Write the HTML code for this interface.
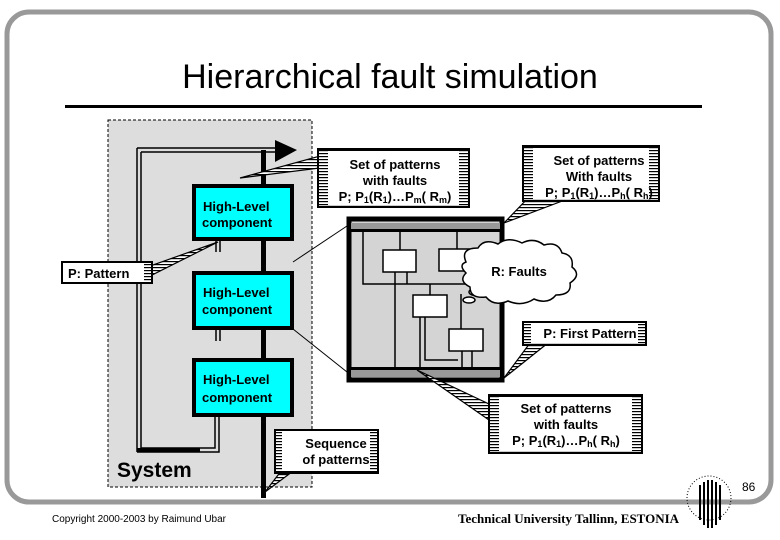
<!DOCTYPE html>
<html><head><meta charset="utf-8"><style>
html,body{margin:0;padding:0;background:#fff;}
svg{display:block;font-family:"Liberation Sans",sans-serif;}
.b{font-weight:bold;font-size:13px;}
</style></head><body>
<svg width="780" height="540" viewBox="0 0 780 540" xmlns="http://www.w3.org/2000/svg">
<defs>
<pattern id="st" width="4" height="3" patternUnits="userSpaceOnUse">
<rect width="4" height="3" fill="#fff"/><rect width="4" height="1.2" fill="#000"/>
</pattern>
</defs>
<rect x="7" y="12" width="764" height="490" rx="22" fill="none" stroke="#999" stroke-width="5"/>
<text x="390" y="88" text-anchor="middle" font-size="34">Hierarchical fault simulation</text>
<rect x="65" y="105" width="637" height="3" fill="#000"/>

<rect x="108" y="120" width="204" height="367" fill="#ddd" stroke="#000" stroke-width="1" stroke-dasharray="3,2"/>

<g fill="none" stroke="#000">
<path d="M137 148 H278 M141 152 H278" stroke-width="1.5"/>
<path d="M137 148 V452 M141 152 V448" stroke-width="1.5"/>
<path d="M137 452 H219 V416 M141 448 H215 V416" stroke-width="1.5"/>
<path d="M137 450 H200" stroke-width="4"/>
<path d="M216 240 V252 M220 240 V252 M216 329 V341 M220 329 V341" stroke-width="1.5"/>
</g>
<polygon points="275,140 297,150 275,162" fill="#000"/>
<rect x="261" y="150" width="5" height="348" fill="#000"/>

<g fill="#00ffff" stroke="#000" stroke-width="4">
<rect x="194" y="186" width="98" height="53"/>
<rect x="194" y="273" width="98" height="55"/>
<rect x="194" y="360" width="98" height="55"/>
</g>
<g class="b" font-size="13">
<text x="203" y="211">High-Level</text><text x="202" y="227">component</text>
<text x="203" y="297">High-Level</text><text x="202" y="314">component</text>
<text x="203" y="384">High-Level</text><text x="202" y="402">component</text>
</g>
<text x="117" y="477" font-size="21" font-weight="bold">System</text>

<line x1="293" y1="262" x2="347" y2="226" stroke="#000"/>
<line x1="293" y1="329" x2="347" y2="372" stroke="#000"/>

<rect x="349" y="219" width="153" height="161" fill="#d4d4d4" stroke="#000" stroke-width="5"/>
<rect x="351" y="223" width="149" height="6" fill="#999"/>
<rect x="351" y="370" width="149" height="7" fill="#999"/>
<rect x="351" y="229" width="149" height="3" fill="#000"/>
<rect x="351" y="367" width="149" height="3" fill="#000"/>
<g fill="none" stroke="#000" stroke-width="1.5">
<path d="M363 232 V284 H465 M400 232 V250 M457 232 V249 M395 272 V368 M407 272 V284 M430 284 V295 M420 317 V368 M425 317 V360 H458 M462 351 V368 M472 351 V368 M461 294 V329"/>
</g>
<g fill="#fff" stroke="#000" stroke-width="1.5">
<rect x="383" y="250" width="33" height="22"/>
<rect x="439" y="249" width="34" height="22"/>
<rect x="413" y="295" width="34" height="22"/>
<rect x="449" y="329" width="34" height="22"/>
</g>
<g fill="#fff" stroke="#000" stroke-width="1.5">
<ellipse cx="469" cy="300" rx="6" ry="3"/>
<ellipse cx="478" cy="292" rx="9" ry="4"/>
<path d="M466 262 q-6 -14 12 -14 q6 -10 20 -4 q10 -8 24 -1 q12 -6 22 2 q14 -4 18 8 q12 2 10 14 q10 8 -2 16 q2 12 -14 12 q-8 10 -22 4 q-12 8 -26 2 q-14 6 -22 -4 q-16 2 -16 -10 q-12 -6 -4 -14 q-8 -8 0 -11z"/>
</g>
<text x="519" y="276" text-anchor="middle" class="b">R: Faults</text>

<g stroke="#000" stroke-width="1.2">
<polygon points="320,156 320,168 240,178" fill="url(#st)"/>
<polygon points="530,196 565,200 504,223" fill="url(#st)"/>
<polygon points="530,343 548,343 504,378" fill="url(#st)"/>
<polygon points="489,404 489,420 417,370" fill="url(#st)"/>
<polygon points="285,466 300,466 265,492" fill="url(#st)"/>
<polygon points="150,266 150,276 218,242" fill="url(#st)"/>
</g>
<g stroke="#000" stroke-width="2">
<rect x="318" y="149" width="151" height="58" fill="url(#st)"/>
<rect x="328" y="151" width="131" height="54" fill="#fff" stroke="none"/>
<rect x="523" y="146" width="136" height="55" fill="url(#st)"/>
<rect x="533" y="148" width="116" height="51" fill="#fff" stroke="none"/>
<rect x="523" y="322" width="123" height="23" fill="url(#st)"/>
<rect x="531" y="324" width="107" height="19" fill="#fff" stroke="none"/>
<rect x="489" y="395" width="153" height="58" fill="url(#st)"/>
<rect x="499" y="397" width="133" height="54" fill="#fff" stroke="none"/>
<rect x="275" y="430" width="103" height="43" fill="url(#st)"/>
<rect x="282" y="432" width="88" height="39" fill="#fff" stroke="none"/>
<rect x="62" y="262" width="90" height="21" fill="url(#st)"/>
<rect x="63" y="264" width="81" height="17" fill="#fff" stroke="none"/>
</g>
<g class="b" text-anchor="middle">
<text x="395" y="169">Set of patterns</text>
<text x="395" y="185">with faults</text>
<text x="395" y="201">P; P<tspan font-size="9" dy="2">1</tspan><tspan dy="-2">(R</tspan><tspan font-size="9" dy="2">1</tspan><tspan dy="-2">)…P</tspan><tspan font-size="9" dy="2">m</tspan><tspan dy="-2">( R</tspan><tspan font-size="9" dy="2">m</tspan><tspan dy="-2">)</tspan></text>
<text x="599" y="165">Set of patterns</text>
<text x="599" y="181">With faults</text>
<text x="599" y="197">P; P<tspan font-size="9" dy="2">1</tspan><tspan dy="-2">(R</tspan><tspan font-size="9" dy="2">1</tspan><tspan dy="-2">)…P</tspan><tspan font-size="9" dy="2">h</tspan><tspan dy="-2">( R</tspan><tspan font-size="9" dy="2">h</tspan><tspan dy="-2">)</tspan></text>
<text x="590" y="338">P: First Pattern</text>
<text x="566" y="413">Set of patterns</text>
<text x="566" y="429">with faults</text>
<text x="566" y="445">P; P<tspan font-size="9" dy="2">1</tspan><tspan dy="-2">(R</tspan><tspan font-size="9" dy="2">1</tspan><tspan dy="-2">)…P</tspan><tspan font-size="9" dy="2">h</tspan><tspan dy="-2">( R</tspan><tspan font-size="9" dy="2">h</tspan><tspan dy="-2">)</tspan></text>
<text x="336" y="448">Sequence</text>
<text x="336" y="464">of patterns</text>
</g>
<text x="68" y="278" class="b" font-size="13">P: Pattern</text>

<text x="52" y="522" font-size="10">Copyright 2000-2003 by Raimund Ubar</text>
<text x="458" y="523" font-size="13" font-weight="bold" font-family="Liberation Serif,serif">Technical University Tallinn, ESTONIA</text>
<text x="742" y="491" font-size="12">86</text>
<g stroke="#000" fill="none">
<circle cx="709" cy="498" r="22" stroke-dasharray="1,2"/>
<path d="M700 485 V520 M704 482 V525 M708 480 V528 M712 480 V528 M716 482 V525 M720 485 V520" stroke-width="2"/>
</g>
</svg>
</body></html>
